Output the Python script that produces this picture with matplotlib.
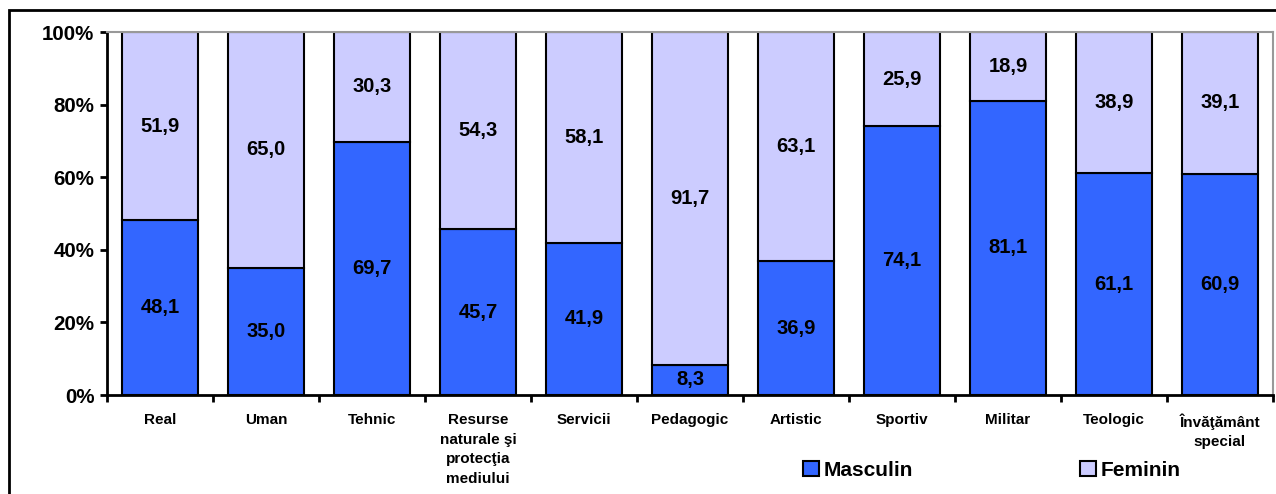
import numpy as np
import matplotlib
matplotlib.use("Agg")
import matplotlib.pyplot as plt
from matplotlib.patches import Rectangle

plt.rcParams['font.family'] = ['Liberation Sans', 'DejaVu Sans']
plt.rcParams['font.weight'] = 'bold'

# Data
categories = ["Real", "Uman", "Tehnic", "Resurse\nnaturale şi\nprotecţia\nmediului",
              "Servicii", "Pedagogic", "Artistic", "Sportiv", "Militar", "Teologic",
              "Învăţământ\nspecial"]
masculin = [48.1, 35.0, 69.7, 45.7, 41.9, 8.3, 36.9, 74.1, 81.1, 61.1, 60.9]
feminin = [51.9, 65.0, 30.3, 54.3, 58.1, 91.7, 63.1, 25.9, 18.9, 38.9, 39.1]

col_m = "#3366FF"
col_f = "#CCCCFF"

fig = plt.figure(figsize=(12.76, 4.94), dpi=100)
ax = fig.add_axes([107 / 1276, 1 - 395 / 494, 1166 / 1276, 363 / 494])

x = np.arange(len(categories))
w = 0.72
b1 = ax.bar(x, masculin, w, color=col_m, edgecolor="black", linewidth=1.5, label="Masculin")
b2 = ax.bar(x, feminin, w, bottom=masculin, color=col_f, edgecolor="black", linewidth=1.5, label="Feminin")

def fmt(v):
    return f"{v:.1f}".replace(".", ",")

for i in range(len(x)):
    ax.text(x[i], masculin[i] / 2, fmt(masculin[i]), ha="center", va="center",
            fontsize=14.5, fontweight="bold")
    ax.text(x[i], masculin[i] + feminin[i] / 2, fmt(feminin[i]), ha="center", va="center",
            fontsize=14.5, fontweight="bold")

ax.set_xlim(-0.5, len(x) - 0.5)
ax.set_ylim(0, 100)
ax.set_yticks(np.arange(0, 101, 20))
ax.set_yticklabels([f"{v}%" for v in range(0, 101, 20)], fontsize=14.8, fontweight="bold")

# category labels between boundary ticks
ax.set_xticks(np.arange(-0.5, len(x), 1.0))
ax.set_xticklabels([])
ax.set_xticks(x, minor=True)
ax.set_xticklabels(categories, minor=True, fontsize=11, fontweight="bold", linespacing=1.5,
                   va="top")
ax.tick_params(axis="x", which="minor", length=0, pad=13)
ax.tick_params(axis="x", which="major", length=5, width=2, direction="out")
ax.tick_params(axis="y", length=5, width=2, direction="out", pad=4)

for s in ["left", "bottom"]:
    ax.spines[s].set_linewidth(2)
for s in ["top", "right"]:
    ax.spines[s].set_color("#999999")
    ax.spines[s].set_linewidth(1.5)

# outer frame
fig.patches.append(Rectangle((9 / 1276, -0.1), 1.2, 1 - 10 / 494 + 0.1, transform=fig.transFigure,
                             fill=False, edgecolor="black", linewidth=2))

fig.legend(handles=[b1, b2], labels=["Masculin", "Feminin"], loc="center",
           bbox_to_anchor=(992 / 1276, 1 - 470 / 494), ncol=2, frameon=False,
           prop={"size": 15, "weight": "bold"}, handlelength=0.75, handleheight=0.75,
           handletextpad=0.25, columnspacing=8.0)

fig.savefig("out.png", dpi=100)
